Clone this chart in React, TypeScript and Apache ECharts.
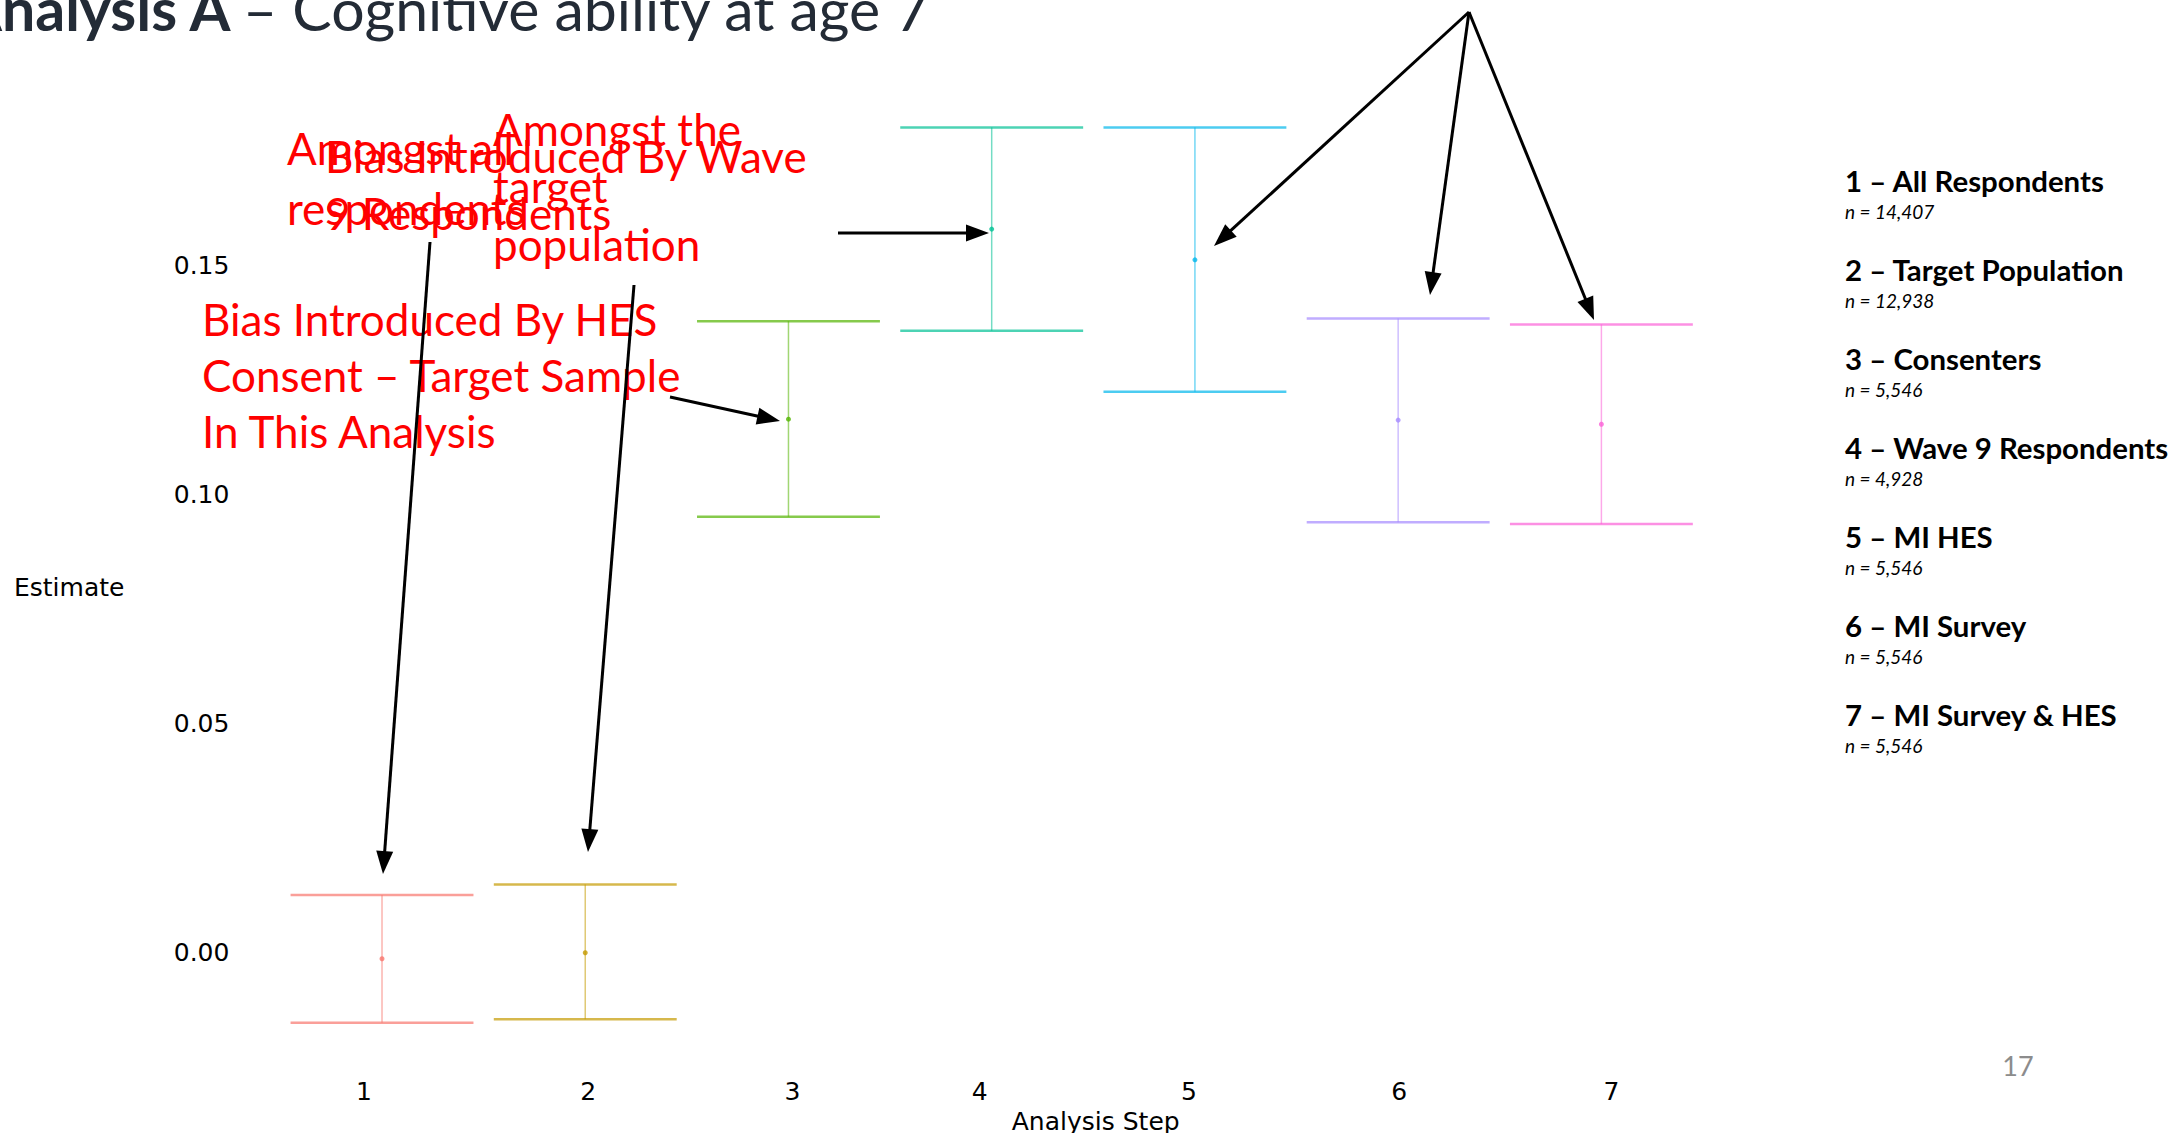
import React, { useEffect, useRef } from 'react';
import * as echarts from 'echarts';

const W = 2175;
const H = 1133;

// ---- data ----
const steps = ['1', '2', '3', '4', '5', '6', '7'];
const estimates = [-0.0014, -0.0001, 0.1164, 0.1579, 0.1512, 0.1162, 0.1153];
const lowerCI = [-0.0154, -0.0146, 0.0951, 0.1357, 0.1224, 0.0939, 0.0935];
const upperCI = [0.0125, 0.0148, 0.1378, 0.1801, 0.1801, 0.1384, 0.1371];
const stepColors = ['#F8766D', '#C49A00', '#53B400', '#00C094', '#00B6EB', '#A58AFF', '#FB61D7'];
const yTickLabels = ['0.00', '0.05', '0.10', '0.15'];
const legendNames = [
  '1 – All Respondents',
  '2 – Target Population',
  '3 – Consenters',
  '4 – Wave 9 Respondents',
  '5 – MI HES',
  '6 – MI Survey',
  '7 – MI Survey & HES',
];
const legendN = ['n = 14,407', 'n = 12,938', 'n = 5,546', 'n = 4,928', 'n = 5,546', 'n = 5,546', 'n = 5,546'];

const titleBold = 'Analysis A';
const titleRest = '– Cognitive ability at age 7';

// small horizontal nudges of the step labels (px), as placed in the original slide
const stepLabelShift = [-18, 3, 4, -12, -6, 1, 10];

const redNotes = [
  { text: 'Amongst all\nrespondents', x: 287, y: 118, lh: 60 },
  { text: 'Bias Introduced By Wave\n9 Respondents', x: 325, y: 127, lh: 57 },
  { text: 'Amongst the\ntarget\npopulation', x: 493, y: 100, lh: 57.5 },
  { text: 'Bias Introduced By HES\nConsent – Target Sample\nIn This Analysis', x: 202, y: 291, lh: 56 },
];

const arrowDefs = [
  [430, 242, 383, 874],
  [634, 285, 588, 852],
  [670, 397, 780, 421],
  [838, 233, 989, 233],
  [1469, 12, 1214, 246],
  [1469, 12, 1430, 295],
  [1469, 12, 1594, 320],
];

function arrow(sx: number, sy: number, tx: number, ty: number) {
  const L = 23;
  const Wd = 8.5;
  const dx = tx - sx;
  const dy = ty - sy;
  const len = Math.hypot(dx, dy);
  const ux = dx / len;
  const uy = dy / len;
  const bx = tx - ux * L;
  const by = ty - uy * L;
  const nx = -uy;
  const ny = ux;
  return [
    {
      type: 'line',
      shape: { x1: sx, y1: sy, x2: bx + ux * 3, y2: by + uy * 3 },
      style: { stroke: '#000', lineWidth: 3 },
      z: 10,
    },
    {
      type: 'polygon',
      shape: { points: [[tx, ty], [bx + nx * Wd, by + ny * Wd], [bx - nx * Wd, by - ny * Wd]] },
      style: { fill: '#000' },
      z: 10,
    },
  ];
}

export default function App() {
  const ref = useRef<HTMLDivElement>(null);
  useEffect(() => {
    document.body.style.margin = '0';
    const chart = echarts.init(ref.current as HTMLDivElement, null, { renderer: 'svg', width: W, height: H });

    const graphic: any[] = [];
    // title
    graphic.push({
      type: 'text',
      x: -39,
      y: 8,
      style: {
        text: titleBold,
        font: 'bold 59px Lato',
        fill: '#232b36',
        verticalAlign: 'middle',
        align: 'left',
      },
    });
    graphic.push({
      type: 'text',
      x: 243,
      y: 8,
      style: {
        text: titleRest,
        font: '59px Lato',
        fill: '#232b36',
        verticalAlign: 'middle',
        align: 'left',
      },
    });
    // legend texts
    legendNames.forEach((name, i) => {
      graphic.push({
        type: 'text',
        x: 1845,
        y: 180 + 89 * i,
        style: { text: name, font: 'bold 29.4px Lato', fill: '#000', verticalAlign: 'middle', align: 'left' },
      });
      graphic.push({
        type: 'text',
        x: 1845,
        y: 211 + 89 * i,
        style: { text: legendN[i], font: 'italic 19px Lato', fill: '#000', verticalAlign: 'middle', align: 'left' },
      });
    });
    // page number
    graphic.push({
      type: 'text',
      x: 2018,
      y: 1065,
      style: { text: '17', font: '27px Lato', fill: '#8c8c8c', verticalAlign: 'middle', align: 'center' },
    });
    // red annotations
    redNotes.forEach((n) => {
      graphic.push({
        type: 'text',
        x: n.x,
        y: n.y,
        z: 5,
        style: {
          text: n.text,
          fontFamily: 'Lato',
          fontSize: 44,
          lineHeight: n.lh,
          fill: '#ff0000',
          verticalAlign: 'top',
          align: 'left',
        },
      });
    });
    arrowDefs.forEach((a) => {
      arrow(a[0], a[1], a[2], a[3]).forEach((e) => graphic.push(e));
    });

    const option: any = {
      animation: false,
      backgroundColor: '#ffffff',
      grid: {
        left: 280.4,
        top: 36.3,
        width: 1422.6,
        height: 1030.5,
        containLabel: false,
        outerBoundsMode: 'none',
      },
      xAxis: {
        type: 'category',
        data: steps.map((s, i) => {
          const sh = stepLabelShift[i];
          return {
            value: s,
            textStyle: { padding: sh < 0 ? [0, -2 * sh, 0, 0] : [0, 0, 0, 2 * sh] },
          };
        }),
        boundaryGap: true,
        axisLine: { show: false },
        axisTick: { show: false },
        splitLine: { show: false },
        axisLabel: { fontFamily: 'DejaVu Sans', fontSize: 25, color: '#000', margin: 12 },
        name: 'Analysis Step',
        nameLocation: 'middle',
        nameGap: 36,
        nameTextStyle: { fontFamily: 'DejaVu Sans', fontSize: 25, color: '#000', padding: [0, 0, 0, 208] },
      },
      yAxis: {
        type: 'value',
        min: -0.025,
        max: 0.2,
        interval: 0.025,
        axisLine: { show: false },
        axisTick: { show: false },
        splitLine: { show: false },
        axisLabel: {
          fontFamily: 'DejaVu Sans',
          fontSize: 25,
          color: '#000',
          margin: 51,
          formatter: (v: number) => {
            const s = v.toFixed(2);
            return yTickLabels.indexOf(s) >= 0 && Math.abs(v * 20 - Math.round(v * 20)) < 1e-6 ? s : '';
          },
        },
        name: '\nEstimate',
        nameLocation: 'middle',
        nameRotate: 0,
        nameGap: 156,
        nameTextStyle: { fontFamily: 'DejaVu Sans', fontSize: 25, lineHeight: 71, color: '#000' },
      },
      series: [
        {
          type: 'custom',
          data: steps.map((s, i) => [i, lowerCI[i], upperCI[i]]),
          encode: { x: 0, y: [1, 2] },
          renderItem: (params: any, api: any) => {
            const idx = api.value(0);
            const pHi = api.coord([idx, api.value(2)]);
            const pLo = api.coord([idx, api.value(1)]);
            const band = api.size([1, 0])[0];
            const half = band * 0.45;
            const color = stepColors[params.dataIndex];
            return {
              type: 'group',
              children: [
                {
                  type: 'line',
                  shape: { x1: pHi[0] - half, y1: pHi[1], x2: pHi[0] + half, y2: pHi[1] },
                  style: { stroke: color, lineWidth: 2.5, opacity: 0.7 },
                },
                {
                  type: 'line',
                  shape: { x1: pLo[0] - half, y1: pLo[1], x2: pLo[0] + half, y2: pLo[1] },
                  style: { stroke: color, lineWidth: 2.5, opacity: 0.7 },
                },
                {
                  type: 'line',
                  shape: { x1: pHi[0], y1: pHi[1], x2: pLo[0], y2: pLo[1] },
                  style: { stroke: color, lineWidth: 1.5, opacity: 0.55 },
                },
              ],
            };
          },
          z: 2,
        },
        {
          type: 'scatter',
          data: steps.map((s, i) => ({ value: [i, estimates[i]], itemStyle: { color: stepColors[i] } })),
          symbolSize: 5,
          z: 3,
        },
      ],
      graphic,
    };
    chart.setOption(option);
    return () => chart.dispose();
  }, []);
  return (
    <div
      ref={ref}
      style={{ position: 'fixed', left: 0, top: 0, width: W, height: H, background: '#fff' }}
    />
  );
}
